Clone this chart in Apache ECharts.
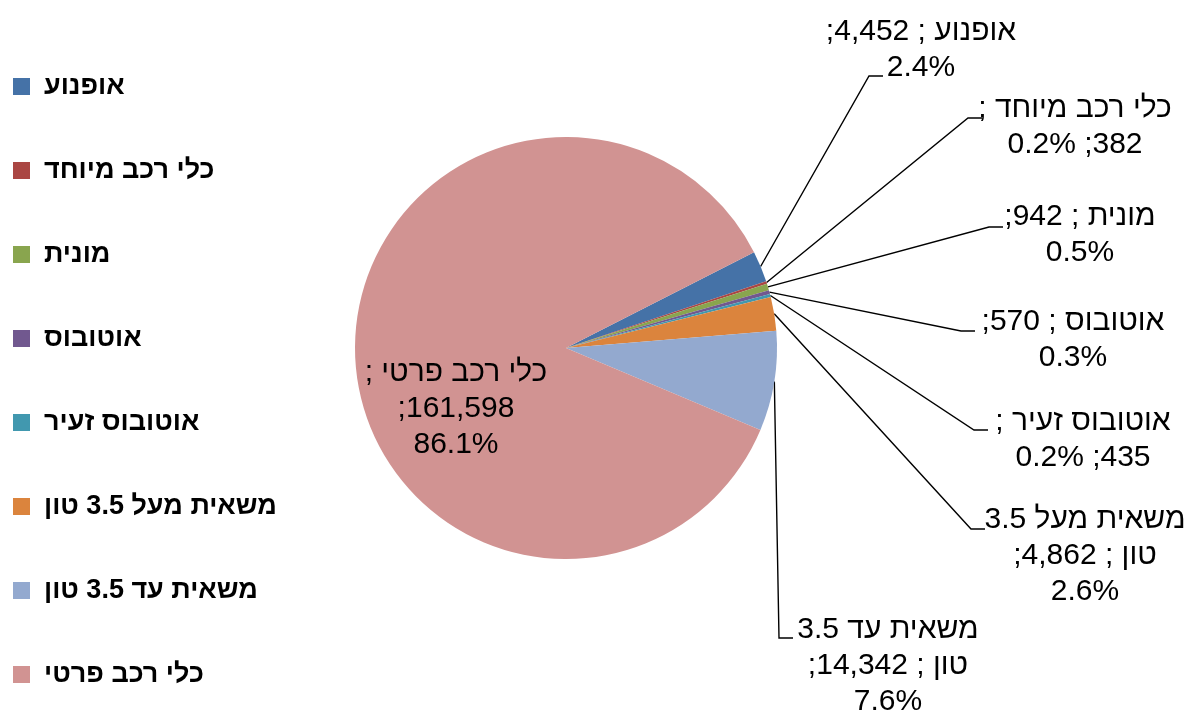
<!DOCTYPE html>
<html>
<head>
<meta charset="utf-8">
<script src="https://cdn.jsdelivr.net/npm/echarts@6/dist/echarts.min.js"></script>
<style>
  html, body { margin: 0; padding: 0; background: #fff; }
  #chart { width: 1190px; height: 715px; direction: rtl; }
</style>
</head>
<body>
<div id="chart"></div>
<script>
// vehicle types
var categories = [
  "אופנוע",
  "כלי רכב מיוחד",
  "מונית",
  "אוטובוס",
  "אוטובוס זעיר",
  "משאית מעל 3.5 טון",
  "משאית עד 3.5 טון",
  "כלי רכב פרטי"
];
var values = [4452, 382, 942, 570, 435, 4862, 14342, 161598];
var colors = ["#4572A7", "#AA4643", "#89A54E", "#71588F", "#4198AF", "#DB843D", "#93A9CF", "#D19392"];

var total = values.reduce(function (a, b) { return a + b; }, 0);
var fontFamily = '"Liberation Sans", Arial, sans-serif';
var labelFont = 30;

// wrap label text on spaces, like excel does
var measureCtx = document.createElement("canvas").getContext("2d");
measureCtx.font = labelFont + "px " + fontFamily;
function wrapWords(text, maxWidth) {
  var words = text.split(" ");
  var lines = [];
  var line = "";
  words.forEach(function (w) {
    var next = line ? line + " " + w : w;
    if (line && measureCtx.measureText(next).width > maxWidth) {
      lines.push(line);
      line = w;
    } else {
      line = next;
    }
  });
  lines.push(line);
  return lines.join("\n");
}

function parts(i) {
  return [
    categories[i],
    values[i].toLocaleString("en-US"),
    (values[i] / total * 100).toFixed(1) + "%"
  ];
}

// label spots: [center x, top y]
var labelSpots = [
  [921, 14], [1075, 91], [1080, 199], [1073, 304],
  [1083, 404], [1085, 502], [888, 612], [456, 355]
];
// where the leader line meets the label, relative to the spot
var lineAnchors = [
  [-38, 62], [-93, 27], [-77, 28], [-98, 27],
  [-95, 26], [-100, 27], [-95, 26]
];

var chartDom = document.getElementById("chart");
var myChart = echarts.init(chartDom);

var seriesData = categories.map(function (name, i) {
  var item = { name: name, value: values[i], itemStyle: { color: colors[i] } };
  if (i === categories.length - 1) {
    item.label = {
      position: "inside",
      formatter: function (p) {
        var s = parts(p.dataIndex);
        return s[0] + " ;\n" + s[1] + ";\n" + s[2];
      }
    };
    item.labelLine = { show: false };
  }
  return item;
});

var option = {
  animation: false,
  backgroundColor: "#fff",
  legend: {
    orient: "vertical",
    left: 13,
    top: 73,
    padding: 0,
    icon: "rect",
    itemWidth: 17,
    itemHeight: 17,
    itemGap: 57,
    selectedMode: false,
    textStyle: {
      fontFamily: fontFamily,
      fontSize: 27,
      fontWeight: "bold",
      color: "#000",
      lineHeight: 27,
      padding: [0, 0, 0, 9]
    },
    data: categories
  },
  series: [
    {
      type: "pie",
      center: [566, 348],
      radius: 211,
      startAngle: 27,
      avoidLabelOverlap: false,
      itemStyle: { borderWidth: 0 },
      label: {
        show: true,
        position: "outside",
        color: "#000",
        fontFamily: fontFamily,
        fontSize: labelFont,
        lineHeight: 36,
        align: "center",
        formatter: function (p) {
          var s = parts(p.dataIndex);
          return wrapWords(s[0] + " ; " + s[1] + "; " + s[2], 215);
        }
      },
      labelLine: {
        show: true,
        length: 20,
        length2: 12,
        lineStyle: { color: "#000", width: 1.4 }
      },
      labelLayout: function (p) {
        var s = labelSpots[p.dataIndex];
        var out = { x: s[0], y: s[1], align: "center", verticalAlign: "top" };
        var a = lineAnchors[p.dataIndex];
        if (a && p.labelLinePoints) {
          var ax = s[0] + a[0];
          var ay = s[1] + a[1];
          out.labelLinePoints = [p.labelLinePoints[0], [ax - 14, ay], [ax, ay]];
        }
        return out;
      },
      emphasis: { disabled: true },
      data: seriesData
    }
  ]
};

myChart.setOption(option);
</script>
</body>
</html>
